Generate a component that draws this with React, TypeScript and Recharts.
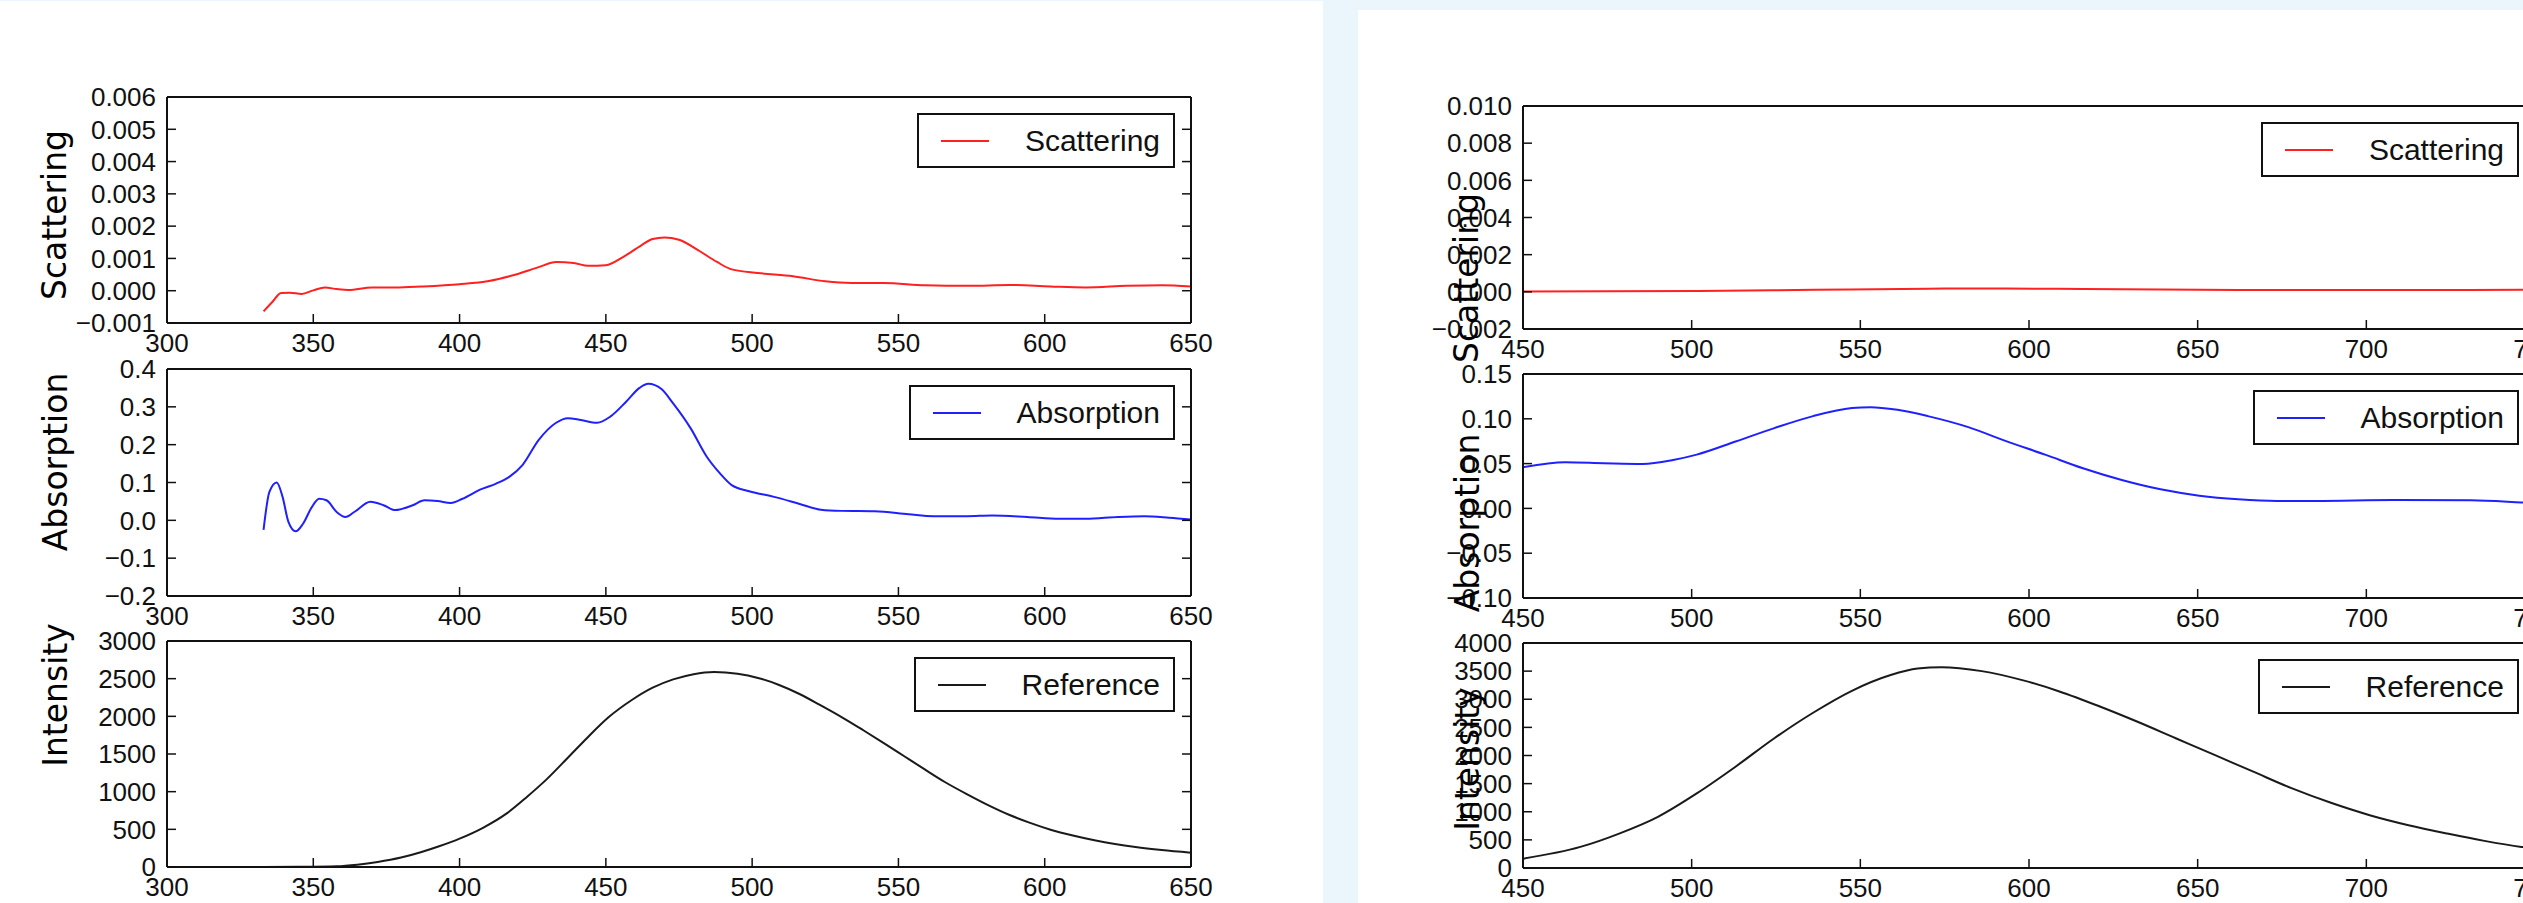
import React from 'react';
import { LineChart, Line, XAxis, YAxis, Legend } from 'recharts';

// left panel, 300–650 nm
const leftTicksX = [300, 350, 400, 450, 500, 550, 600, 650];

const scatLeftNm = [333, 336, 339, 342, 346, 350, 354, 358, 362, 370, 378, 387, 400, 410, 418, 427, 433, 439, 444, 450, 456, 462, 466, 470, 475, 482, 488, 493, 502, 514, 525, 534, 545, 559, 574, 588, 602, 614, 628, 640, 650];
const scatLeftVal = [-0.00064, -0.00035, -0.00007, -0.00006, -0.0001, 0.00001, 0.0001, 0.00005, 0.00002, 0.0001, 0.0001, 0.00013, 0.0002, 0.0003, 0.00047, 0.00073, 0.00089, 0.00086, 0.00077, 0.00079, 0.00105, 0.0014, 0.0016, 0.00165, 0.00158, 0.00123, 0.00089, 0.00066, 0.00055, 0.00045, 0.00029, 0.00024, 0.00024, 0.00017, 0.00015, 0.00018, 0.00013, 0.0001, 0.00015, 0.00017, 0.00013];
const scatLeftTicks = [-0.001, 0, 0.001, 0.002, 0.003, 0.004, 0.005, 0.006];

const absLeftNm = [333, 335, 337.5, 339.5, 341.5, 344, 346.5, 349.5, 352, 354.5, 358, 361, 364, 369.5, 374, 378, 384, 388, 392.5, 397, 401, 407, 412.5, 417, 421.5, 427, 433, 437, 441.5, 447, 451.5, 457, 461.5, 464.5, 469, 473, 479, 484.5, 489, 493, 499, 507.5, 516, 523.5, 530.5, 542, 553.5, 562, 573.5, 582, 594, 605, 614, 625, 634, 642.5, 650];
const absLeftVal = [-0.025, 0.075, 0.1, 0.062, -0.004, -0.029, -0.009, 0.035, 0.057, 0.053, 0.022, 0.009, 0.022, 0.049, 0.04, 0.027, 0.04, 0.053, 0.051, 0.046, 0.057, 0.081, 0.097, 0.115, 0.146, 0.212, 0.258, 0.27, 0.265, 0.258, 0.274, 0.314, 0.35, 0.361, 0.347, 0.309, 0.243, 0.168, 0.124, 0.093, 0.077, 0.062, 0.044, 0.028, 0.025, 0.024, 0.016, 0.011, 0.011, 0.013, 0.009, 0.004, 0.004, 0.009, 0.011, 0.007, 0.002];
const absLeftTicks = [-0.2, -0.1, 0, 0.1, 0.2, 0.3, 0.4];

const refLeftNm = [333, 345, 358, 365, 372, 380, 387, 393, 400, 408, 416, 423, 430, 437, 444, 451, 459, 466, 473, 480, 487, 495, 502, 509, 516, 523, 531, 538, 545, 552, 559, 566, 574, 581, 588, 595, 602, 610, 617, 624, 631, 640, 650];
const refLeftVal = [0, 2, 9, 30, 66, 125, 199, 275, 376, 520, 708, 930, 1173, 1450, 1730, 1990, 2220, 2380, 2490, 2560, 2588, 2565, 2510, 2420, 2300, 2155, 1980, 1815, 1645, 1470, 1295, 1125, 955, 815, 690, 585, 495, 415, 355, 305, 265, 225, 190];
const refLeftTicks = [0, 500, 1000, 1500, 2000, 2500, 3000];

// right panel, 450–750 nm
const rightTicksX = [450, 500, 550, 600, 650, 700, 750];

const scatRightNm = [450, 475, 502, 524, 547, 570, 593, 616, 639, 662, 685, 708, 730, 750];
const scatRightVal = [0.00002, 0.00003, 0.00005, 0.00008, 0.00013, 0.00017, 0.00018, 0.00015, 0.00012, 0.0001, 0.0001, 0.0001, 0.0001, 0.00011];
const scatRightTicks = [-0.002, 0, 0.002, 0.004, 0.006, 0.008, 0.01];

const absRightNm = [450, 462.5, 474, 485.5, 494.5, 501.5, 513, 524.5, 536, 547.5, 553, 561, 570, 582, 593, 605, 616, 627.5, 639, 650.5, 662, 673.5, 685, 708, 731, 746, 750];
const absRightVal = [0.0459, 0.0515, 0.0504, 0.0496, 0.054, 0.06, 0.0746, 0.0896, 0.103, 0.112, 0.113, 0.11, 0.103, 0.0907, 0.0754, 0.0597, 0.0448, 0.0317, 0.0213, 0.0142, 0.0101, 0.0082, 0.0082, 0.0093, 0.009, 0.0067, 0.006];
const absRightTicks = [-0.1, -0.05, 0, 0.05, 0.1, 0.15];

const refRightNm = [450, 467, 478.5, 490, 501.5, 513, 524.5, 536, 547.5, 559, 567, 574, 586, 598, 609, 621, 632, 643.5, 655, 666.5, 678, 689.5, 701, 712.5, 724, 735, 746, 750];
const refRightVal = [166, 375, 612, 910, 1326, 1801, 2307, 2760, 3150, 3430, 3545, 3570, 3500, 3340, 3139, 2871, 2604, 2307, 2010, 1712, 1415, 1159, 939, 761, 612, 482, 375, 345];
const refRightTicks = [0, 500, 1000, 1500, 2000, 2500, 3000, 3500, 4000];

const pairs = (nm: number[], v: number[]) => nm.map((x, i) => ({ nm: x, v: v[i] }));

const minus = (s: string, v: number) => (v < 0 ? '\u2212' + s.replace('-', '') : s);
const f3 = (v: number) => minus(v.toFixed(3), v);
const f2 = (v: number) => minus(v.toFixed(2), v);
const f1 = (v: number) => minus(v.toFixed(1), v);
const f0 = (v: number) => String(Math.round(v));

const PAD_L = 170;
const PAD_R = 30;
const PAD_T = 30;
const PAD_B = 50;
const TICK_FONT = { fill: '#111', fontSize: 26, fontFamily: '"Liberation Sans", Arial, sans-serif' };
const AXIS = { stroke: '#111', strokeWidth: 2 };
const TICKLINE = { stroke: '#111', strokeWidth: 1.5 };

type PlotProps = {
  x: number;
  y: number;
  w: number;
  h: number;
  data: { nm: number; v: number }[];
  xTicks: number[];
  yTicks: number[];
  fmt: (v: number) => string;
  color: string;
  name: string;
};

const LegendBox = ({ color, name }: { color: string; name: string }) => (
  <div
    style={{
      display: 'flex',
      alignItems: 'center',
      height: 55,
      boxSizing: 'border-box',
      border: '2px solid #111',
      background: '#fff',
      padding: '0 13px 0 22px',
      fontFamily: '"Liberation Sans", Arial, sans-serif',
      fontSize: 30,
      color: '#111',
      whiteSpace: 'nowrap',
    }}
  >
    <div style={{ width: 48, height: 2, background: color, marginRight: 36 }} />
    <span>{name}</span>
  </div>
);

function Plot(p: PlotProps) {
  const width = p.w + PAD_L + PAD_R;
  const height = p.h + PAD_T + PAD_B;
  const xDomain: [number, number] = [p.xTicks[0], p.xTicks[p.xTicks.length - 1]];
  const yDomain: [number, number] = [p.yTicks[0], p.yTicks[p.yTicks.length - 1]];
  return (
    <div style={{ position: 'absolute', left: p.x - PAD_L, top: p.y - PAD_T, width, height }}>
      <LineChart width={width} height={height} data={p.data} margin={{ top: 0, right: 0, bottom: 0, left: 0 }}>
        <XAxis
          xAxisId="b"
          dataKey="nm"
          type="number"
          domain={xDomain}
          ticks={p.xTicks}
          interval={0}
          allowDataOverflow
          height={PAD_B}
          tickSize={-9}
          tickMargin={20}
          axisLine={AXIS}
          tickLine={TICKLINE}
          tick={TICK_FONT}
        />
        <XAxis
          xAxisId="t"
          orientation="top"
          type="number"
          domain={xDomain}
          ticks={p.xTicks}
          interval={0}
          allowDataOverflow
          height={PAD_T}
          tickSize={-9}
          axisLine={AXIS}
          tickLine={TICKLINE}
          tickFormatter={() => ''}
        />
        <YAxis
          yAxisId="l"
          type="number"
          domain={yDomain}
          ticks={p.yTicks}
          interval={0}
          allowDataOverflow
          width={PAD_L}
          tickSize={-9}
          tickMargin={20}
          axisLine={AXIS}
          tickLine={TICKLINE}
          tick={TICK_FONT}
          tickFormatter={p.fmt}
        />
        <YAxis
          yAxisId="r"
          orientation="right"
          type="number"
          domain={yDomain}
          ticks={p.yTicks}
          interval={0}
          allowDataOverflow
          width={PAD_R}
          tickSize={-9}
          axisLine={AXIS}
          tickLine={TICKLINE}
          tickFormatter={() => ''}
        />
        <Line
          xAxisId="b"
          yAxisId="l"
          dataKey="v"
          name={p.name}
          type="monotone"
          stroke={p.color}
          strokeWidth={2}
          dot={false}
          isAnimationActive={false}
        />
        <Legend
          layout="horizontal"
          verticalAlign="middle"
          align="center"
          wrapperStyle={{ top: PAD_T + 16, right: PAD_R + 16, width: 'auto' }}
          content={() => <LegendBox color={p.color} name={p.name} />}
        />
      </LineChart>
    </div>
  );
}

const RED = '#ff2020';
const BLUE = '#2020ff';
const BLACK = '#1a1a1a';

const yLabels = [
  { text: 'Scattering', x: 54, y: 215 },
  { text: 'Absorption', x: 55, y: 462 },
  { text: 'Intensity', x: 55, y: 695 },
  { text: 'Scattering', x: 1466, y: 278 },
  { text: 'Absorption', x: 1467, y: 523 },
  { text: 'Intensity', x: 1467, y: 759 },
];

export default function App() {
  return (
    <div style={{ position: 'fixed', left: 0, top: 0, width: 2523, height: 903, overflow: 'hidden', background: '#ebf6fc' }}>
      <div style={{ position: 'absolute', left: 0, top: 1, width: 1323, height: 902, background: '#fff' }} />
      <div style={{ position: 'absolute', left: 1358, top: 10, width: 1165, height: 893, background: '#fff' }} />

      <Plot x={167} y={97} w={1024} h={226} data={pairs(scatLeftNm, scatLeftVal)} xTicks={leftTicksX} yTicks={scatLeftTicks} fmt={f3} color={RED} name="Scattering" />
      <Plot x={167} y={369} w={1024} h={227} data={pairs(absLeftNm, absLeftVal)} xTicks={leftTicksX} yTicks={absLeftTicks} fmt={f1} color={BLUE} name="Absorption" />
      <Plot x={167} y={641} w={1024} h={226} data={pairs(refLeftNm, refLeftVal)} xTicks={leftTicksX} yTicks={refLeftTicks} fmt={f0} color={BLACK} name="Reference" />

      <Plot x={1523} y={106} w={1012} h={223} data={pairs(scatRightNm, scatRightVal)} xTicks={rightTicksX} yTicks={scatRightTicks} fmt={f3} color={RED} name="Scattering" />
      <Plot x={1523} y={374} w={1012} h={224} data={pairs(absRightNm, absRightVal)} xTicks={rightTicksX} yTicks={absRightTicks} fmt={f2} color={BLUE} name="Absorption" />
      <Plot x={1523} y={643} w={1012} h={225} data={pairs(refRightNm, refRightVal)} xTicks={rightTicksX} yTicks={refRightTicks} fmt={f0} color={BLACK} name="Reference" />

      <svg width={2523} height={903} style={{ position: 'absolute', left: 0, top: 0, pointerEvents: 'none' }}>
        {yLabels.map((l, i) => (
          <text
            key={i}
            x={l.x}
            y={l.y}
            transform={`rotate(-90, ${l.x}, ${l.y})`}
            textAnchor="middle"
            dominantBaseline="central"
            fontFamily='"DejaVu Sans", Verdana, sans-serif'
            fontSize={33}
            fill="#000"
          >
            {l.text}
          </text>
        ))}
      </svg>
    </div>
  );
}
